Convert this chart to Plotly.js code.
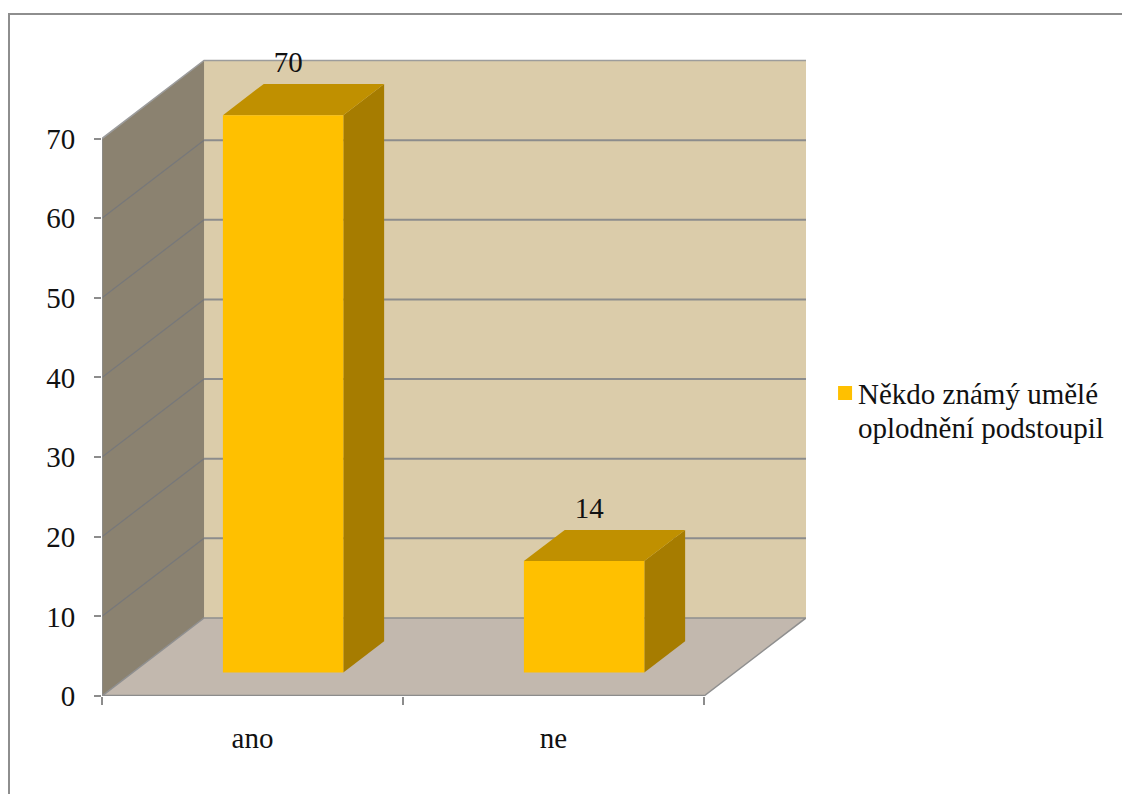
<!DOCTYPE html>
<html>
<head>
<meta charset="utf-8">
<script src="https://cdn.plot.ly/plotly-3.0.1.min.js"></script>
<style>
  html, body { margin: 0; padding: 0; background: #fff; width: 1122px; height: 794px; overflow: hidden; }
  #frame { position: absolute; left: 8px; top: 13px; right: -4px; bottom: -4px; border: 2px solid #8e8e8e; box-sizing: border-box; }
  #chart { position: absolute; left: 0; top: 0; width: 1122px; height: 794px; }
</style>
</head>
<body>
<div id="frame"></div>
<div id="chart"></div>
<script>
// Survey answers
const categories = ['ano', 'ne'];
const values = [70, 14];
const seriesName = 'Někdo známý umělé<br>oplodnění podstoupil';
const valueTicks = [0, 10, 20, 30, 40, 50, 60, 70];
const gridValues = [10, 20, 30, 40, 50, 60];

// Oblique projection: a full step in depth shifts a point right and up, in axis units
const DEPTH_X = 0.339;
const DEPTH_Y = 9.8;
const VALUE_TOP = 70;
const BAR_START = 0.3, BAR_WIDTH = 0.4;
const DEPTH_NEAR = 0.3, DEPTH_FAR = 0.7;
const LABEL_DEPTH = 0.35, LABEL_LIFT = 5.85;

const project = (x, v, d) => [x + d * DEPTH_X, v + d * DEPTH_Y];

function face(points, color) {
  const pts = points.map(p => project(p[0], p[1], p[2]));
  pts.push(pts[0]);
  return {
    type: 'scatter', mode: 'lines', x: pts.map(p => p[0]), y: pts.map(p => p[1]),
    fill: 'toself', fillcolor: color, line: { width: 0 },
    hoverinfo: 'skip', showlegend: false, cliponaxis: false
  };
}

function edge(points, color, width) {
  const pts = points.map(p => project(p[0], p[1], p[2]));
  return {
    type: 'scatter', mode: 'lines', x: pts.map(p => p[0]), y: pts.map(p => p[1]),
    line: { color: color, width: width },
    hoverinfo: 'skip', showlegend: false, cliponaxis: false
  };
}

const xEnd = categories.length;
const traces = [];

// Walls and floor of the box
traces.push(face([[0, 0, 1], [xEnd, 0, 1], [xEnd, VALUE_TOP, 1], [0, VALUE_TOP, 1]], '#dbccaa'));
traces.push(face([[0, 0, 0], [0, 0, 1], [0, VALUE_TOP, 1], [0, VALUE_TOP, 0]], '#8b8270'));
traces.push(face([[0, 0, 0], [xEnd, 0, 0], [xEnd, 0, 1], [0, 0, 1]], '#c2b8ae'));

// Gridlines run along the side wall, then across the back wall
gridValues.forEach(v => {
  traces.push(edge([[0, v, 0], [0, v, 1]], '#77787a', 1.2));
  traces.push(edge([[0, v, 1], [xEnd, v, 1]], '#8c8c8c', 2));
});
traces.push(edge([[0, VALUE_TOP, 0], [0, VALUE_TOP, 1], [xEnd, VALUE_TOP, 1]], '#9c9c9c', 1.5));
traces.push(edge([[0, 0, 0], [0, 0, 1], [xEnd, 0, 1], [xEnd, 0, 0]], '#8f8f8f', 1.5));
traces.push(edge([[0, 0, 0], [0, VALUE_TOP, 0]], '#8c8c8c', 1.5));
traces.push(edge([[0, 0, 0], [xEnd, 0, 0]], '#8c8c8c', 2.5));

// Bars: front, top and right faces
values.forEach((v, i) => {
  const l = i + BAR_START, r = l + BAR_WIDTH;
  traces.push(face([[r, 0, DEPTH_NEAR], [r, 0, DEPTH_FAR], [r, v, DEPTH_FAR], [r, v, DEPTH_NEAR]], '#a67c00'));
  traces.push(face([[l, v, DEPTH_NEAR], [r, v, DEPTH_NEAR], [r, v, DEPTH_FAR], [l, v, DEPTH_FAR]], '#c09000'));
  traces.push(face([[l, 0, DEPTH_NEAR], [r, 0, DEPTH_NEAR], [r, v, DEPTH_NEAR], [l, v, DEPTH_NEAR]], '#ffc000'));
});

const serif = '"Liberation Serif", "Times New Roman", serif';
const ink = '#111';
const textSize = 29;

// Value labels above the bars
const labelPoints = values.map((v, i) => project(i + 0.5, v + LABEL_LIFT, LABEL_DEPTH));
traces.push({
  type: 'scatter', mode: 'text',
  x: labelPoints.map(p => p[0]),
  y: labelPoints.map(p => p[1]),
  text: values.map(String), textposition: 'middle center',
  textfont: { family: serif, size: textSize, color: ink },
  hoverinfo: 'skip', showlegend: false, cliponaxis: false
});

// Series entry for the legend
traces.push({
  type: 'scatter', mode: 'markers', x: [null], y: [null], name: seriesName,
  marker: { symbol: 'square', size: 14, color: '#ffc000' }, hoverinfo: 'skip'
});

const layout = {
  width: 1122, height: 794,
  margin: { l: 102, r: 316, t: 20, b: 98.3, pad: 0 },
  paper_bgcolor: 'rgba(0,0,0,0)', plot_bgcolor: 'rgba(0,0,0,0)',
  font: { family: serif, size: textSize, color: ink },
  showlegend: true,
  legend: {
    x: 1.015, y: 0.42, xanchor: 'left', yanchor: 'middle', valign: 'top',
    bgcolor: 'rgba(0,0,0,0)', borderwidth: 0,
    font: { family: serif, size: textSize, color: ink }, itemwidth: 30
  },
  xaxis: {
    range: [0, 704 / 301], showgrid: false, zeroline: false, showline: false,
    tickmode: 'array', tickvals: categories.map((c, i) => i + 0.5), ticktext: categories,
    ticks: '', ticklabelstandoff: 22,
    minor: { tickmode: 'array', tickvals: categories.map((c, i) => i).concat(xEnd), ticks: 'outside', ticklen: 8, tickwidth: 2, tickcolor: '#8c8c8c', showgrid: false },
    tickfont: { family: serif, size: textSize, color: ink }
  },
  yaxis: {
    range: [0, 675.7 / 7.96], showgrid: false, zeroline: false, showline: false,
    tickmode: 'array', tickvals: valueTicks,
    ticks: 'outside', ticklen: 7, tickwidth: 2, tickcolor: '#8c8c8c', ticklabelstandoff: 13,
    tickfont: { family: serif, size: textSize, color: ink }
  }
};

const LEGEND_NUDGE = 8.5;

Plotly.newPlot('chart', traces, layout, { displayModeBar: false, staticPlot: true }).then(gd => {
  // Tighter leading and a smaller marker gap in the two-line legend entry
  gd.querySelectorAll('.legendtext').forEach(t => {
    t.setAttribute('transform', 'translate(-7,0)');
    t.querySelectorAll('tspan.line').forEach((s, i) => s.setAttribute('dy', (i * 1.15) + 'em'));
  });
  // Slide the legend to the right once the plot area is settled
  const box = gd.querySelector('.legend');
  const m = /translate\(([-\d.]+)[, ]+([-\d.]+)\)/.exec(box.getAttribute('transform') || '');
  if (m) box.setAttribute('transform', `translate(${parseFloat(m[1]) + LEGEND_NUDGE},${m[2]})`);
});
</script>
</body>
</html>
